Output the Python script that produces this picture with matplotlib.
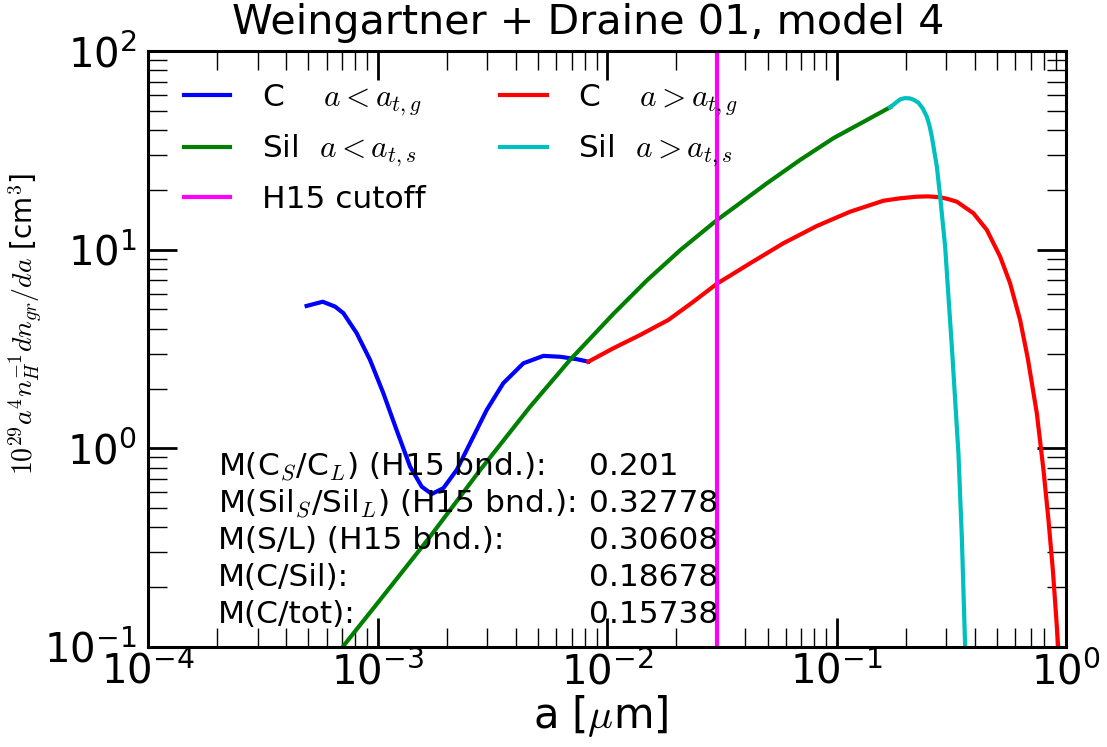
import numpy as np
import matplotlib
matplotlib.use('Agg')
import matplotlib.pyplot as plt

plt.rcParams['mathtext.fontset'] = 'cm'
plt.rcParams['axes.unicode_minus'] = False

# tamaño de grano a [um] y 1e29 a^4 n_H^-1 dn/da
a_C_small = [4.91e-4, 5.77e-4, 6.53e-4, 7.10e-4, 8.11e-4, 9.27e-4, 1.06e-3, 1.21e-3,
             1.386e-3, 1.558e-3, 1.722e-3, 1.935e-3, 2.214e-3, 2.53e-3, 2.99e-3,
             3.53e-3, 4.32e-3, 5.28e-3, 6.24e-3, 7.38e-3, 8.29e-3]
f_C_small = [5.21, 5.47, 5.17, 4.79, 3.80, 2.79, 1.894, 1.238, 0.809, 0.641, 0.589,
             0.630, 0.779, 1.061, 1.561, 2.127, 2.68, 2.92, 2.89, 2.81, 2.73]

a_C_large = [8.29e-3, 0.01065, 0.01393, 0.0185, 0.02377, 0.0300, 0.0420, 0.0586, 0.0820,
             0.1145, 0.160, 0.19, 0.2236, 0.25, 0.2825, 0.305, 0.334, 0.3946, 0.4513,
             0.5158, 0.570, 0.630, 0.680, 0.7451, 0.7966, 0.8375, 0.875, 0.9046, 0.923,
             0.935]
f_C_large = [2.73, 3.19, 3.72, 4.43, 5.47, 6.72, 8.54, 10.77, 13.16, 15.53, 17.64,
             18.15, 18.48, 18.55, 18.35, 18.0, 17.44, 15.25, 12.57, 9.22, 6.77, 4.43,
             2.85, 1.502, 0.778, 0.436, 0.2443, 0.1422, 0.1004, 0.07]

a_Sil_small = [6.5e-4, 1.026e-3, 1.693e-3, 2.80e-3, 4.62e-3, 6.90e-3, 0.01065, 0.0149,
               0.0208, 0.0300, 0.0355, 0.0497, 0.0693, 0.0968, 0.1354, 0.1710]
f_Sil_small = [0.089, 0.1726, 0.359, 0.778, 1.62, 2.79, 4.75, 7.0, 9.93, 14.05,
               16.2, 21.59, 28.28, 36.4, 44.95, 52.1]

a_Sil_large = [0.1710, 0.1891, 0.198, 0.2076, 0.217, 0.2272, 0.237, 0.2472, 0.254,
               0.2600, 0.2733, 0.2825, 0.2971, 0.3071, 0.3177, 0.3284, 0.3394, 0.3511,
               0.3630, 0.366]
f_Sil_large = [52.1, 57.1, 57.9, 57.8, 56.8, 54.9, 51.5, 46.7, 42.0, 37.0, 26.2, 18.48,
               10.35, 5.80, 3.25, 1.752, 0.945, 0.359, 0.1005, 0.08]

a_cut = 0.03  # corte H15

etiquetas = ["M(C$_S$/C$_L$) (H15 bnd.):", "M(Sil$_S$/Sil$_L$) (H15 bnd.):",
             "M(S/L) (H15 bnd.):", "M(C/Sil):", "M(C/tot):"]
valores = ["0.201", "0.32778", "0.30608", "0.18678", "0.15738"]

fig = plt.figure(figsize=(11.07, 7.47), dpi=100)
ax = fig.add_axes([0.1337, 0.1339, 0.8294, 0.7978])

lw = 3
l1, = ax.plot(a_C_small, f_C_small, color='#0000ff', lw=lw, label=r"C    $a<a_{t,g}$")
l2, = ax.plot(a_Sil_small, f_Sil_small, color='#008000', lw=lw, label=r"Sil  $a<a_{t,s}$")
l4, = ax.plot(a_C_large, f_C_large, color='#ff0000', lw=lw, label=r"C    $a>a_{t,g}$")
l5, = ax.plot(a_Sil_large, f_Sil_large, color='#00bfbf', lw=lw, label=r"Sil  $a>a_{t,s}$")
l3 = ax.axvline(a_cut, color='#ff00ff', lw=lw, label="H15 cutoff")

ax.set_xscale('log')
ax.set_yscale('log')
ax.set_xlim(1e-4, 1)
ax.set_ylim(0.1, 100)

ax.tick_params(which='both', direction='in', top=True, right=True)
ax.tick_params(which='major', length=21, width=2, labelsize=29, pad=4)
ax.tick_params(which='minor', length=14, width=1)
ax.tick_params(axis='y', which='major', pad=8)
for s in ax.spines.values():
    s.set_linewidth(2.2)

ax.set_xlabel(r"a [$\mu$m]", fontsize=30, labelpad=0)
ax.xaxis.set_label_coords(0.493, -0.078)
ax.set_ylabel(r"$10^{29}a^4n_H^{-1}dn_{gr}/da$ [cm$^3$]", fontsize=20)
ax.yaxis.set_label_coords(-0.113, 0.542)
ax.set_title("Weingartner + Draine 01, model 4", fontsize=29.7, x=0.479, pad=12)

ax.legend(handles=[l1, l2, l3, l4, l5], ncol=2, loc='upper left', frameon=False,
          fontsize=22.5, handlelength=1.5, handletextpad=1.0, columnspacing=2.4,
          labelspacing=0.5, borderaxespad=0.3, bbox_to_anchor=(0.0149, 0.984))

# bloque de texto con las masas
for i in range(len(etiquetas)):
    y = 0.288 - i * 0.062
    ax.text(0.076, y, etiquetas[i], transform=ax.transAxes, fontsize=22.5, va='baseline')
    ax.text(0.480, y, valores[i], transform=ax.transAxes, fontsize=22.5, va='baseline')

fig.savefig("out.png", dpi=100)
